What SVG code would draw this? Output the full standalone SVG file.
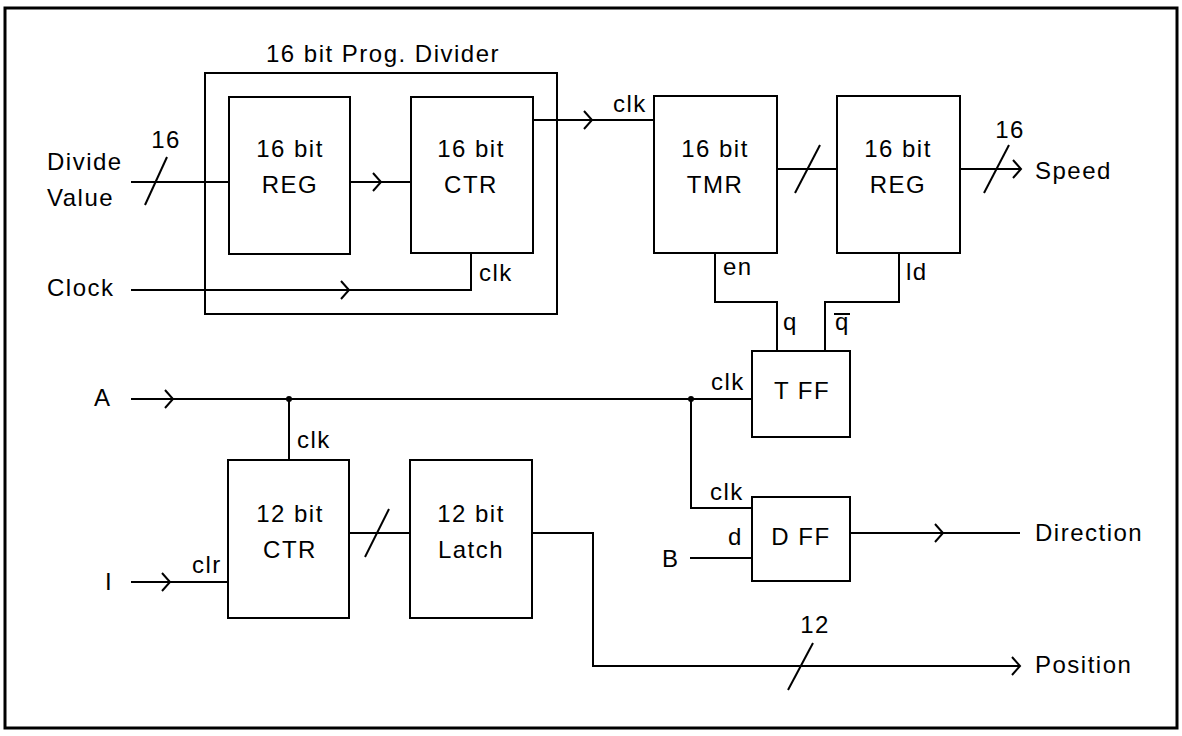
<svg xmlns="http://www.w3.org/2000/svg" width="1182" height="736" viewBox="0 0 1182 736">
<style>
.b{fill:none;stroke:#000;stroke-width:2}
.w{fill:none;stroke:#000;stroke-width:2}
text{font-family:"Liberation Sans",Arial,sans-serif;font-size:24px;fill:#000;letter-spacing:1.5px}
.c{text-anchor:middle}
</style>
<defs>
<path id="ah" d="M-8,-9 L0,0 L-8,9" fill="none" stroke="#000" stroke-width="2"/>
</defs>
<rect x="0" y="0" width="1182" height="736" fill="#fff"/>
<rect x="5" y="8" width="1172" height="720" fill="none" stroke="#000" stroke-width="3"/>

<g id="divider">
<rect class="b" x="205" y="73" width="352" height="241"/>
<text class="c" x="383" y="62">16 bit Prog. Divider</text>
</g>
<g id="reg1"><rect class="b" x="229" y="97" width="121" height="157"/>
<text class="c" x="290" y="157">16 bit</text><text class="c" x="290" y="193">REG</text></g>
<g id="ctr16"><rect class="b" x="411" y="97" width="122" height="156"/>
<text class="c" x="471" y="157">16 bit</text><text class="c" x="471" y="193">CTR</text></g>
<g id="tmr"><rect class="b" x="654" y="96" width="123" height="157"/>
<text class="c" x="715" y="157">16 bit</text><text class="c" x="715" y="193">TMR</text></g>
<g id="reg2"><rect class="b" x="837" y="96" width="123" height="157"/>
<text class="c" x="898" y="157">16 bit</text><text class="c" x="898" y="193">REG</text></g>
<g id="tff"><rect class="b" x="752" y="351" width="98" height="86"/>
<text class="c" x="802" y="399">T FF</text></g>
<g id="ctr12"><rect class="b" x="228" y="460" width="121" height="158"/>
<text class="c" x="290" y="522">12 bit</text><text class="c" x="290" y="558">CTR</text></g>
<g id="latch"><rect class="b" x="410" y="460" width="122" height="158"/>
<text class="c" x="471" y="522">12 bit</text><text class="c" x="471" y="558">Latch</text></g>
<g id="dff"><rect class="b" x="752" y="497" width="98" height="84"/>
<text class="c" x="801" y="545">D FF</text></g>

<g id="labels">
<text x="47" y="170">Divide</text>
<text x="47" y="206">Value</text>
<text x="47" y="296">Clock</text>
<text x="94" y="406">A</text>
<text x="105" y="590">I</text>
<text x="662" y="567">B</text>
<text x="1035" y="179">Speed</text>
<text x="1035" y="541">Direction</text>
<text x="1035" y="673">Position</text>
</g>

<g id="connectors">
<line class="w" x1="131" y1="182" x2="229" y2="182"/>
<line class="w" x1="145" y1="205" x2="167" y2="157"/>
<text class="c" x="166" y="148">16</text>
<line class="w" x1="350" y1="182" x2="411" y2="182"/>
<use href="#ah" transform="translate(381,182)"/>
<line class="w" x1="533" y1="120" x2="654" y2="120"/>
<use href="#ah" transform="translate(592,120)"/>
<text x="613" y="112">clk</text>
<polyline class="w" points="131,290 471,290 471,253"/>
<use href="#ah" transform="translate(349,290)"/>
<text x="479" y="281">clk</text>
<line class="w" x1="777" y1="169" x2="837" y2="169"/>
<line class="w" x1="795" y1="193" x2="820" y2="145"/>
<line class="w" x1="960" y1="169" x2="1021" y2="169"/>
<use href="#ah" transform="translate(1021,169)"/>
<line class="w" x1="984" y1="193" x2="1009" y2="145"/>
<text class="c" x="1010" y="138">16</text>
<polyline class="w" points="715,253 715,302 777,302 777,351"/>
<text x="723" y="275">en</text>
<text x="783" y="330">q</text>
<polyline class="w" points="899,253 899,302 825,302 825,351"/>
<text x="906" y="280">ld</text>
<text x="835" y="330">q</text>
<line class="w" x1="834" y1="314" x2="850" y2="314"/>
<line class="w" x1="131" y1="399" x2="752" y2="399"/>
<use href="#ah" transform="translate(173,399)"/>
<circle cx="289" cy="399" r="3" fill="#000"/>
<circle cx="691" cy="399" r="3" fill="#000"/>
<text x="711" y="390">clk</text>
<line class="w" x1="289" y1="399" x2="289" y2="460"/>
<text x="297" y="448">clk</text>
<line class="w" x1="131" y1="582" x2="228" y2="582"/>
<use href="#ah" transform="translate(170,582)"/>
<text x="192" y="573">clr</text>
<line class="w" x1="349" y1="533" x2="410" y2="533"/>
<line class="w" x1="365" y1="557" x2="389" y2="509"/>
<polyline class="w" points="532,533 593,533 593,666 1020,666"/>
<use href="#ah" transform="translate(1020,666)"/>
<line class="w" x1="788" y1="690" x2="813" y2="643"/>
<text class="c" x="815" y="633">12</text>
<polyline class="w" points="691,399 691,508 752,508"/>
<text x="710" y="500">clk</text>
<text x="728" y="545">d</text>
<line class="w" x1="690" y1="558" x2="752" y2="558"/>
<line class="w" x1="850" y1="533" x2="1020" y2="533"/>
<use href="#ah" transform="translate(943,533)"/>
</g>
</svg>
